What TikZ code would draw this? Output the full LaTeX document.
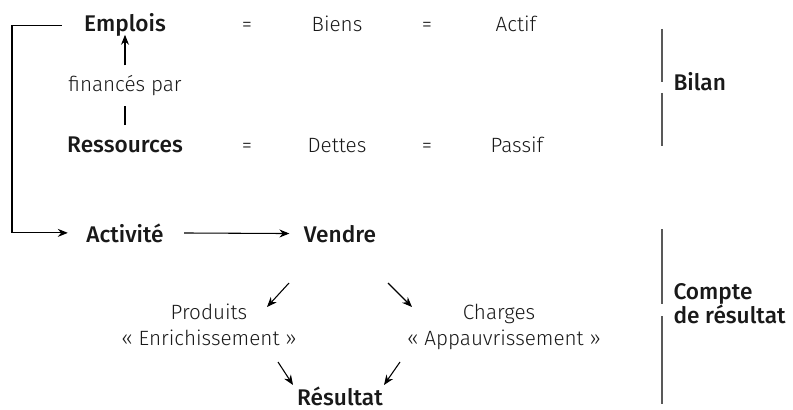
\documentclass[tikz,border=0pt]{standalone}
\usepackage{fontspec}
\setmainfont{Fira Sans}[UprightFont=* Light, BoldFont=* Medium]
\usetikzlibrary{arrows.meta, positioning}

\begin{document}
\begin{tikzpicture}[x=0.75pt, y=-0.75pt, >={Stealth[length=7.5pt, width=6pt]}, line width=0.8pt]
        \tikzstyle{term}=[anchor=base, inner sep=0pt, text=black!90, font=\fontsize{15.5}{19.5}\selectfont]
        \tikzstyle{key}=[term, font=\fontsize{17}{19.5}\selectfont\bfseries]
        \tikzstyle{bar}=[draw=black!65, line width=1pt]

        \useasboundingbox (0,0) rectangle (793,410);

        % Bilan
        \node[key]  (A) at (125,32)  {Emplois};
        \node[term] (B) at (247,32)  {=};
        \node[term] (C) at (337,32)  {Biens};
        \node[term] (D) at (427,32)  {=};
        \node[term] (E) at (516,32)  {Actif};
        \node[term] (F) at (125,92)  {financés par};
        \node[key]  (G) at (125,152) {Ressources};
        \node[term] (H) at (247,152) {=};
        \node[term] (I) at (337,152) {Dettes};
        \node[term] (J) at (427,152) {=};
        \node[term] (K) at (517,152) {Passif};

        % Compte de resultat
        \node[key]  (L) at (125,242) {Activité};
        \node[key]  (M) at (340,242) {Vendre};
        \node[term] (N) at (209,319) {Produits};
        \node[term] (O) at (209,345) {« Enrichissement »};
        \node[term] (P) at (499,319) {Charges};
        \node[term] (Q) at (504,345) {« Appauvrissement »};
        \node[key]  (R) at (340,405) {Résultat};

        \node[key, anchor=base west] (S) at (673,91)  {Bilan};
        \node[key, anchor=base west] (T) at (673,299) {Compte};
        \node[key, anchor=base west] (U) at (673,323) {de résultat};

        \coordinate (left) at (12,0);

        \draw[shorten <=8pt, shorten >=7pt] (G.north) -- (F.south);
        \draw[->, shorten <=7.5pt, shorten >=-2pt] (F.north) -- (A.south);
        \draw[->, shorten <=16.5pt, shorten >=13.5pt] (A.west) -- (A.west -| left) |- (L.west);
        \draw[->, shorten <=15pt, shorten >=10.5pt] (L.east) -- (M.west);

        \draw[->] ([shift={(-51,41)}]M.base) -- ([shift={(58,-12)}]N.base);
        \draw[->] ([shift={(48,41)}]M.base) -- ([shift={(-87,-12)}]P.base);
        \draw[->] ([shift={(69,17)}]O.base) -- ([shift={(-47,-20)}]R.base);
        \draw[->] ([shift={(-104,17)}]Q.base) -- ([shift={(44,-20)}]R.base);

        \draw[bar] (662,29) -- (662,82);
        \draw[bar] (662,93) -- (662,146);
        \draw[bar] (662,229) -- (662,304);
        \draw[bar] (662,316) -- (662,404);
\end{tikzpicture}
\end{document}
